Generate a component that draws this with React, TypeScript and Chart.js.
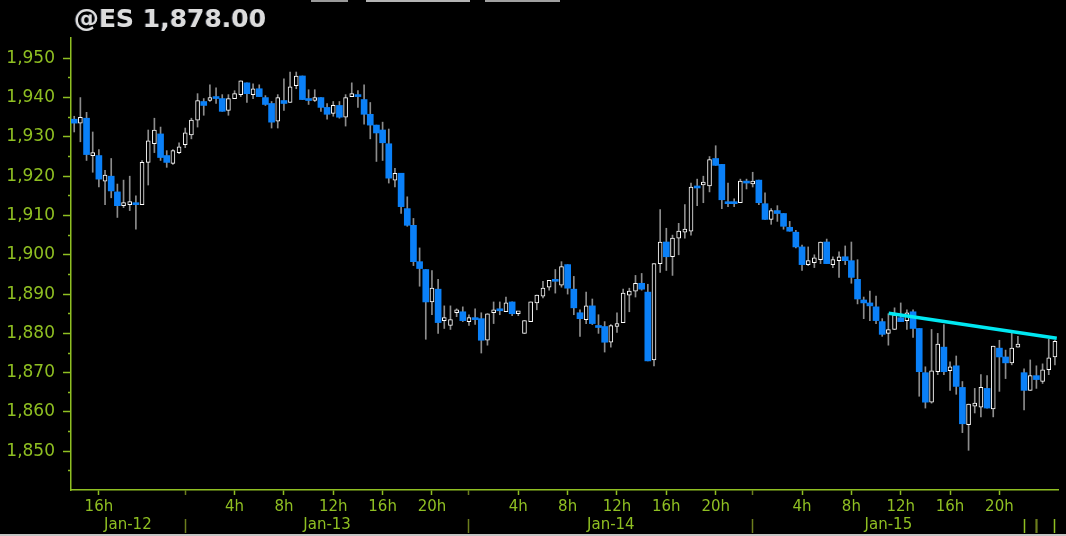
import React, { useEffect, useRef } from 'react';
import { Chart, registerables } from 'chart.js';

Chart.register(...registerables);

// ---- Data (30-minute candles, index 0..159) ----
const opens = [
  1934.5, 1933.5, 1934.75, 1925.25, 1925.25, 1918.75, 1920, 1916, 1912.5, 1912.75,
  1913.25, 1912.75, 1923.5, 1928.25, 1930.75, 1925.25, 1923.25, 1926, 1928, 1930.5,
  1934.25, 1939, 1939.25, 1940.25, 1939.75, 1936.75, 1939.75, 1940.75, 1943.75, 1940.75,
  1942.25, 1940, 1938.5, 1934, 1939.25, 1938.75, 1943, 1945.5, 1939.75, 1939.25,
  1940, 1937.5, 1936, 1938, 1935, 1940.25, 1940.5, 1939.5, 1935.75, 1933,
  1931.75, 1928.25, 1919, 1920.75, 1911.75, 1907.5, 1898.25, 1896.25, 1888, 1891.25,
  1883.25, 1882, 1885.25, 1885.5, 1883, 1884, 1883.75, 1878.25, 1885.25, 1886.25,
  1885.5, 1888, 1885, 1880, 1883, 1887.75, 1889.5, 1891.75, 1893.5, 1892.25,
  1897.5, 1891.25, 1885.25, 1883.5, 1887, 1882, 1881.75, 1877.75, 1881.75, 1882.75,
  1889.75, 1890.75, 1892.75, 1890.5, 1873.25, 1897.75, 1903.25, 1899.5, 1904.25, 1905.75,
  1906, 1917.5, 1917.75, 1917.5, 1924.5, 1923, 1913.5, 1913.5, 1913.25, 1918.75,
  1918, 1919, 1913, 1909, 1911.25, 1910.5, 1907, 1905.75, 1902, 1897.5,
  1898, 1898.75, 1903.25, 1897.5, 1898.5, 1899.5, 1898.5, 1893.75, 1888.5, 1887.75,
  1886.75, 1883, 1880, 1881, 1884, 1883.25, 1885.5, 1881.25, 1870, 1862.5,
  1870.25, 1876.5, 1870.5, 1871.75, 1866.25, 1856.75, 1861.5, 1861.25, 1866, 1860.75,
  1876.25, 1874, 1872.5, 1876.5, 1870, 1865.5, 1869.25, 1867.75, 1870.75, 1874,
];
const highs = [
  1935.25, 1940, 1936.25, 1931.25, 1926.75, 1921.5, 1924.5, 1918, 1919, 1920,
  1915, 1924, 1931.75, 1934.75, 1932.5, 1926.5, 1926.75, 1928.5, 1932.25, 1934.75,
  1941, 1939.75, 1943.25, 1942.5, 1940.75, 1940.75, 1941.75, 1944.25, 1943.75, 1943.5,
  1943.25, 1940.5, 1939, 1940.75, 1944.75, 1946.5, 1946.5, 1945.5, 1942, 1942,
  1940, 1938.5, 1939, 1939, 1940.75, 1943.75, 1941.75, 1943.25, 1938.75, 1933,
  1933.75, 1932, 1922, 1920.75, 1914.75, 1909.25, 1901.75, 1896.25, 1896, 1893.75,
  1887, 1887, 1886.25, 1886.75, 1884.75, 1886.25, 1885.25, 1885, 1888, 1888,
  1889.25, 1888, 1885.5, 1883.25, 1888, 1889.75, 1893.25, 1893.5, 1896.25, 1898.25,
  1897.5, 1894.5, 1886, 1890.5, 1888.75, 1884.75, 1883, 1882.25, 1885.25, 1891.25,
  1891.5, 1894.75, 1895.25, 1892.5, 1897.75, 1911.5, 1906.75, 1905, 1908, 1912.75,
  1918.25, 1919.25, 1920, 1925, 1927.75, 1923, 1918.25, 1914.25, 1919.25, 1919.25,
  1921, 1919, 1915.75, 1911.75, 1912.5, 1910.5, 1908.5, 1906.25, 1902.5, 1902,
  1900, 1903.25, 1904, 1899.5, 1900.75, 1902.25, 1903.25, 1898.75, 1889.25, 1890.75,
  1889.5, 1883.75, 1885, 1886.5, 1887.75, 1886, 1886, 1881.25, 1871.5, 1881,
  1880, 1882.25, 1872.75, 1874.25, 1867.75, 1862, 1866, 1869.5, 1869.25, 1876.75,
  1878.25, 1875.75, 1880, 1879.25, 1871, 1873.25, 1871.75, 1872.25, 1878.5, 1878.25,
];
const lows = [
  1931.25, 1928.75, 1924, 1921, 1917.25, 1912.75, 1914.5, 1909.5, 1912, 1911.25,
  1906.5, 1912.75, 1917.75, 1926, 1924, 1922.25, 1923, 1925.75, 1927.25, 1929.5,
  1932.5, 1935.5, 1939, 1938.5, 1936.5, 1935.5, 1939.75, 1940.25, 1938.75, 1939.75,
  1940.25, 1938, 1932.25, 1932.25, 1936.75, 1938.75, 1942.25, 1939.5, 1938.25, 1939,
  1936.5, 1934.5, 1935.25, 1934.75, 1932.75, 1940.25, 1937.5, 1933.25, 1929.5, 1923.75,
  1924, 1918.25, 1917.25, 1910.5, 1907.25, 1897.25, 1892, 1878.5, 1884.75, 1880,
  1881.25, 1881, 1884.25, 1883, 1882, 1882.25, 1875, 1877, 1882.5, 1884.75,
  1885.5, 1884.5, 1884.5, 1880, 1883, 1886, 1889, 1891, 1890.25, 1891.75,
  1890, 1884.75, 1879.25, 1882.5, 1882.25, 1880, 1875.25, 1876.5, 1880.25, 1882.75,
  1885.5, 1889.25, 1891, 1873, 1871.75, 1895.5, 1896, 1894.75, 1900, 1904.25,
  1905, 1912.5, 1913.25, 1916, 1922.75, 1911.75, 1912.25, 1912.25, 1913.25, 1916.75,
  1917.25, 1912.75, 1909, 1907.75, 1908.5, 1906.5, 1906, 1901.75, 1896, 1897.25,
  1896.75, 1897.75, 1897.75, 1896.75, 1894.25, 1897.5, 1892.75, 1887.5, 1883.75, 1883.25,
  1882.5, 1879.25, 1877, 1881, 1883, 1881, 1879, 1864, 1861, 1862.25,
  1869.5, 1869.5, 1865.5, 1864.5, 1854.75, 1850.25, 1859.75, 1858.75, 1861, 1858.75,
  1865.25, 1868.5, 1872, 1876.5, 1860.5, 1865.5, 1866, 1867.25, 1869.5, 1872,
];
const closes = [
  1933.5, 1935, 1925.5, 1925.5, 1919.25, 1920.25, 1916.25, 1912.5, 1912.75, 1913.5,
  1912.75, 1923.5, 1929, 1931.75, 1924.75, 1923.5, 1926.5, 1927.5, 1931, 1934.25,
  1939.25, 1938, 1940, 1939.75, 1936.5, 1939.75, 1941, 1944.25, 1941, 1942.25,
  1940.25, 1938.25, 1933.75, 1940, 1938.5, 1942.75, 1945.5, 1939.5, 1939.25, 1940,
  1937.5, 1935.75, 1938, 1935, 1940, 1940.75, 1940.25, 1935.75, 1933, 1931,
  1928.5, 1919.5, 1920.75, 1912.25, 1907.5, 1898.25, 1896.5, 1888, 1891.5, 1882.75,
  1884, 1883.5, 1885.75, 1883.25, 1884, 1883.5, 1878.25, 1885, 1886, 1885.75,
  1887.75, 1885, 1885.5, 1883.25, 1888, 1889.75, 1891.5, 1893.5, 1893.25, 1897,
  1891.5, 1886.5, 1883.75, 1887, 1882.5, 1881.5, 1877.75, 1882, 1882.5, 1890.25,
  1890.75, 1892.75, 1891.25, 1873, 1897.75, 1903.25, 1899.5, 1904.25, 1906, 1906.5,
  1917.25, 1917, 1918, 1924.25, 1922.75, 1914, 1913, 1913, 1918.75, 1918.25,
  1918.75, 1913.25, 1909, 1911.25, 1910.5, 1907.25, 1906, 1902, 1897.5, 1898.5,
  1899.25, 1903.25, 1897.75, 1898.75, 1899.5, 1898.5, 1894.25, 1888.75, 1887.75, 1887,
  1883.25, 1879.75, 1881, 1884.75, 1883, 1885.25, 1881.25, 1870.25, 1862.5, 1870.5,
  1877.25, 1870.25, 1871.5, 1866.5, 1857, 1862, 1861.75, 1866.25, 1861, 1876.75,
  1874, 1872.5, 1876.25, 1877, 1865.5, 1869.25, 1868.25, 1870.75, 1873.75, 1878,
];

// Trend line (candle index / price)
const trendX = [132.05, 159.3];
const trendY = [1885.1, 1878.75];

// Time axis ticks (candle index)
const hourTickIdx = [4, 18, 26, 34, 42, 50, 58, 64, 72, 80, 88, 96, 104, 110, 118, 126, 134, 142, 150];
const hourTickLabels = ['16h', '', '4h', '8h', '12h', '16h', '20h', '', '4h', '8h', '12h', '16h', '20h', '', '4h', '8h', '12h', '16h', '20h'];
const sessionStartIdx = [18, 64, 110];

const dayLabelIdx = [8.7, 41, 87, 132];
const dayLabels = ['Jan-12', 'Jan-13', 'Jan-14', 'Jan-15'];
const daySeparatorIdx = [18, 64, 110, 154, 156, 159];
const daySeparatorDark = [18, 64, 110, 156];

const priceTicks = [
  1845, 1850, 1855, 1860, 1865, 1870, 1875, 1880, 1885, 1890, 1895,
  1900, 1905, 1910, 1915, 1920, 1925, 1930, 1935, 1940, 1945, 1950,
];
const priceMin = 1840.15;
const priceMax = 1955.16;
const idxMin = -0.52;
const idxMax = 159.5;

const titleText = '@ES 1,878.00';

const GREEN = '#8fbf22';
const OLIVE = '#6b7d1c';
const BLUE = '#0a80f8';
const WICK = '#8c8c8c';
const FONT = 'DejaVu Sans';

function fmtPrice(v: number): string {
  const th = Math.floor(v / 1000);
  const rest = String(Math.round(v % 1000)).padStart(3, '0');
  return `${th},${rest}`;
}

export default function App() {
  const ref = useRef<HTMLCanvasElement>(null);

  useEffect(() => {
    document.body.style.margin = '0';
    document.body.style.background = '#000';
    const idx = opens.map((_, i) => i);
    const wickData = idx.map((i) => ({ x: i, y: [lows[i], highs[i]] }));
    const downData = idx
      .filter((i) => closes[i] < opens[i])
      .map((i) => ({ x: i, y: [closes[i], opens[i]] }));
    const upData = idx
      .filter((i) => closes[i] >= opens[i])
      .map((i) => ({ x: i, y: [opens[i], closes[i]] }));
    const trendData = trendX.map((x, i) => ({ x, y: trendY[i] }));

    const chart = new Chart(ref.current as HTMLCanvasElement, {
      type: 'bar',
      data: {
        datasets: [
          {
            type: 'bar',
            label: 'wick',
            data: wickData as any,
            backgroundColor: WICK,
            barThickness: 1,
            grouped: false,
            order: 3,
            xAxisID: 'x',
            yAxisID: 'y',
          } as any,
          {
            type: 'bar',
            label: 'down',
            data: downData as any,
            backgroundColor: BLUE,
            barThickness: 6,
            minBarLength: 2,
            grouped: false,
            order: 2,
            xAxisID: 'x',
            yAxisID: 'y',
          } as any,
          {
            type: 'bar',
            label: 'up',
            data: upData as any,
            backgroundColor: '#000000',
            borderColor: '#ffffff',
            borderWidth: 1,
            borderSkipped: false,
            barThickness: 4,
            minBarLength: 3,
            grouped: false,
            order: 1,
            xAxisID: 'x',
            yAxisID: 'y',
          } as any,
          {
            type: 'line',
            label: 'trend',
            data: trendData as any,
            borderColor: '#00e8f2',
            borderWidth: 3.5,
            pointRadius: 0,
            order: 0,
            xAxisID: 'x',
            yAxisID: 'y',
          } as any,
        ],
      },
      options: {
        responsive: false,
        animation: false,
        devicePixelRatio: 1,
        events: [],
        layout: { padding: { top: 38, right: 8, left: 0, bottom: 0 } },
        plugins: {
          legend: { display: false },
          tooltip: { enabled: false },
          title: { display: false },
        },
        scales: {
          x: {
            type: 'linear',
            position: 'bottom',
            min: idxMin,
            max: idxMax,
            offset: false,
            weight: 0,
            afterBuildTicks: (s: any) => {
              s.ticks = hourTickIdx.map((v) => ({ value: v }));
            },
            afterFit: (s: any) => {
              s.height = 26;
            },
            grid: {
              drawOnChartArea: false,
              offset: false,
              tickLength: 5,
              tickWidth: 1.5,
              tickColor: (c: any) =>
                c.tick && sessionStartIdx.includes(c.tick.value) ? OLIVE : GREEN,
            },
            border: { display: true, color: GREEN, width: 1.5 },
            ticks: {
              autoSkip: false,
              maxRotation: 0,
              minRotation: 0,
              padding: 3,
              color: GREEN,
              font: { family: FONT, size: 15 },
              callback: (v: any) => {
                const k = hourTickIdx.indexOf(Number(v));
                return k >= 0 ? hourTickLabels[k] : '';
              },
            },
          } as any,
          x2: {
            type: 'linear',
            axis: 'x',
            position: 'bottom',
            min: idxMin,
            max: idxMax,
            offset: false,
            weight: 1,
            afterBuildTicks: (s: any) => {
              s.ticks = [...dayLabelIdx, ...daySeparatorIdx]
                .sort((a, b) => a - b)
                .map((v) => ({ value: v }));
            },
            afterFit: (s: any) => {
              s.height = 20;
            },
            grid: {
              drawOnChartArea: false,
              offset: false,
              tickLength: 17,
              tickWidth: (c: any) => (c.tick && c.tick.value === 156 ? 2.2 : 1.5),
              tickBorderDash: [0, 3, 14, 0],
              tickColor: (c: any) => {
                const v = c.tick ? c.tick.value : -1;
                if (!daySeparatorIdx.includes(v)) return 'rgba(0,0,0,0)';
                return daySeparatorDark.includes(v) ? OLIVE : GREEN;
              },
            },
            border: { display: false },
            ticks: {
              autoSkip: false,
              maxRotation: 0,
              minRotation: 0,
              padding: -17,
              color: GREEN,
              font: { family: FONT, size: 15 },
              callback: (v: any) => {
                const k = dayLabelIdx.indexOf(Number(v));
                return k >= 0 ? dayLabels[k] : '';
              },
            },
          } as any,
          y: {
            type: 'linear',
            position: 'left',
            min: priceMin,
            max: priceMax,
            afterBuildTicks: (s: any) => {
              s.ticks = priceTicks.map((v) => ({ value: v }));
            },
            afterFit: (s: any) => {
              s.width = 71;
            },
            grid: {
              drawOnChartArea: false,
              tickLength: 8,
              tickWidth: 1.5,
              tickColor: GREEN,
              tickBorderDash: (c: any) =>
                c.tick && c.tick.value % 10 !== 0 ? [0, 5, 3, 0] : [],
            },
            border: { display: true, color: GREEN, width: 1.5 },
            ticks: {
              autoSkip: false,
              padding: 8,
              color: GREEN,
              font: { family: FONT, size: 17 },
              callback: (v: any) => (Number(v) % 10 === 0 ? fmtPrice(Number(v)) : ''),
            },
          } as any,
        },
      } as any,
    });
    return () => chart.destroy();
  }, []);

  return (
    <div
      style={{
        position: 'fixed',
        left: 0,
        top: 0,
        width: 1066,
        height: 536,
        background: '#000',
        overflow: 'hidden',
      }}
    >
      <canvas
        ref={ref}
        width={1066}
        height={536}
        style={{ position: 'absolute', left: 0, top: 0, width: 1066, height: 536 }}
      />
      <div
        style={{
          position: 'absolute',
          left: 74,
          top: 6,
          fontFamily: FONT,
          fontWeight: 'bold',
          fontSize: 25,
          lineHeight: '25px',
          color: '#dcdcdc',
          whiteSpace: 'nowrap',
          textShadow: '-1px 0 0 rgba(90,100,120,0.6)',
        }}
      >
        {titleText}
      </div>
      <div style={{ position: 'absolute', left: 311, top: 0, width: 37, height: 2, background: '#9a9a9a' }} />
      <div style={{ position: 'absolute', left: 366, top: 0, width: 104, height: 2, background: '#b4b4b4' }} />
      <div style={{ position: 'absolute', left: 485, top: 0, width: 75, height: 2, background: '#a0a0a0' }} />
      <div style={{ position: 'absolute', left: 0, top: 534, width: 1066, height: 2, background: '#c4c4c4' }} />
    </div>
  );
}
